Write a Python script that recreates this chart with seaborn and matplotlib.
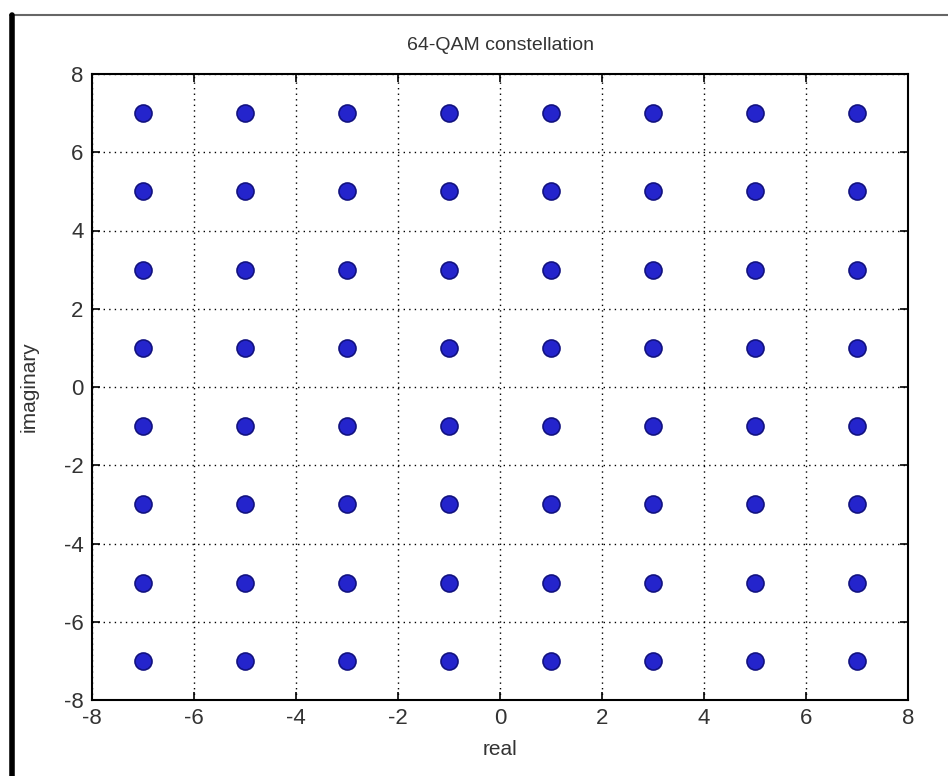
import itertools
import matplotlib
matplotlib.use("Agg")
import matplotlib.pyplot as plt
import seaborn as sns
import pandas as pd
from matplotlib.lines import Line2D

# Data: 64-QAM constellation levels
real_levels = [-7, -5, -3, -1, 1, 3, 5, 7]
imag_levels = [-7, -5, -3, -1, 1, 3, 5, 7]
tick_values = [-8, -6, -4, -2, 0, 2, 4, 6, 8]
title_text = "64-QAM constellation"
xlabel_text = "real"
ylabel_text = "imaginary"

points = pd.DataFrame(list(itertools.product(real_levels, imag_levels)),
                      columns=["real", "imaginary"])

sns.set_theme(style="white")
plt.rcParams["font.family"] = ["Liberation Sans", "DejaVu Sans"]

fig = plt.figure(figsize=(9.48, 7.76), dpi=100)
ax = fig.add_axes([92/948, 1-700/776, (908-92)/948, (700-74)/776])

sns.scatterplot(data=points, x="real", y="imaginary", ax=ax,
                s=150, color="#2424cc", edgecolor="#121280", linewidth=1.2,
                zorder=3, legend=False)

ax.set_xlim(-8, 8)
ax.set_ylim(-8, 8)
ax.set_xticks(tick_values)
ax.set_yticks(tick_values)
ax.set_xticklabels([str(v) for v in tick_values], fontsize=16, color="#333333")
ax.set_yticklabels([str(v) for v in tick_values], fontsize=16, color="#333333")
ax.grid(True, linestyle=(0, (1, 3)), color="black", linewidth=1.0)
ax.tick_params(direction="in", length=6, width=1.2, top=True, right=True,
               bottom=True, left=True, color="black", pad=6)
for sp in ax.spines.values():
    sp.set_color("black")
    sp.set_linewidth(1.5)
ax.set_facecolor("white")

ax.set_title(title_text, fontsize=14, color="#333333", pad=17)
ax.set_xlabel(xlabel_text, fontsize=15, color="#333333", labelpad=8)
ax.set_ylabel(ylabel_text, fontsize=15, color="#333333")
ax.yaxis.set_label_coords(-0.066, 0.5)

# Frame lines of the screenshot
fig.add_artist(Line2D([10/948, 1], [1-15/776, 1-15/776], color="#666666",
                      linewidth=1.5, transform=fig.transFigure))
fig.add_artist(Line2D([12/948, 12/948], [0, 1-15/776], color="black",
                      linewidth=4, transform=fig.transFigure))

fig.savefig("out.png", dpi=100)
